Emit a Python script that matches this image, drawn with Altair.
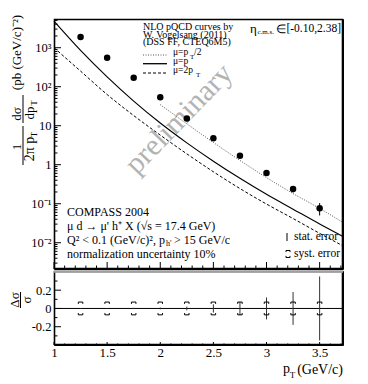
import altair as alt
import pandas as pd

SERIF = "Liberation Serif"

# ---------------- data ----------------
pt = [1.25, 1.5, 1.75, 2.0, 2.25, 2.5, 2.75, 3.0, 3.25, 3.5]
xsec = [1880, 555, 170, 54, 15.4, 4.8, 1.70, 0.61, 0.237, 0.077]
stat_rel = [0.004, 0.005, 0.007, 0.01, 0.02, 0.045, 0.07, 0.12, 0.18, 0.35]
syst_rel = [0.07, 0.07, 0.07, 0.07, 0.07, 0.07, 0.07, 0.07, 0.07, 0.07]

curve_pt = [1.0, 1.25, 1.5, 1.75, 2.0, 2.25, 2.5, 2.75, 3.0, 3.25, 3.5, 3.72]
mu_pt = [4786, 851, 178, 42.7, 11.7, 3.63, 1.23, 0.447, 0.174, 0.0724, 0.0302, 0.0145]
mu_2pt = [1000, 251, 63, 18.2, 5.75, 1.9, 0.66, 0.245, 0.098, 0.0417, 0.0174, 0.0083]
half_pt = [2.0, 2.25, 2.5, 2.75, 3.0, 3.25, 3.5, 3.72]
mu_half = [34.7, 11.2, 3.72, 1.29, 0.468, 0.182, 0.0759, 0.0331]

x_major = [1.0, 1.5, 2.0, 2.5, 3.0, 3.5]
x_minor = [1.1, 1.2, 1.3, 1.4, 1.6, 1.7, 1.8, 1.9, 2.1, 2.2, 2.3, 2.4, 2.6, 2.7,
           2.8, 2.9, 3.1, 3.2, 3.3, 3.4, 3.6, 3.7]
y_major = [0.01, 0.1, 1, 10, 100, 1000]
y_minor = [m * 10.0 ** k for k in range(-3, 4) for m in range(2, 10)
           if 0.00212 <= m * 10.0 ** k <= 5445]
r_major = [-0.2, 0.0, 0.2]
r_minor = [-0.3, -0.1, 0.1, 0.3]

W, H1, H2 = 289, 250, 74

xs = alt.Scale(domain=[1.0, 3.72], nice=False, zero=False)
ys = alt.Scale(type="log", domain=[0.00212, 5445], nice=False)
rs = alt.Scale(domain=[-0.40, 0.41], nice=False, zero=False)

pts = pd.DataFrame({"pt": pt, "xsec": xsec, "stat": stat_rel, "syst": syst_rel})
pts["lo"] = pts.xsec * (1 - pts.stat)
pts["hi"] = pts.xsec * (1 + pts.stat)
pts["slo"] = -pts.stat
pts["shi"] = pts.stat
pts["ylo"] = -pts.syst
pts["yhi"] = pts.syst

top_axis = alt.Axis(
    values=y_major,
    labelExpr="datum.value == 1 ? '1' : datum.value == 10 ? '10' : datum.value == 100 ? '10²' : datum.value == 1000 ? '10³' : datum.value < 0.05 ? '10⁻²' : '10⁻¹'",
    ticks=False, tickSize=0, domain=False, grid=False, labelFont=SERIF, labelFontSize=12.5,
    labelColor="black", labelPadding=3, labelFlush=False, minExtent=45, maxExtent=45, title=None)
bot_x_axis = alt.Axis(values=x_major, labelExpr="'' + datum.value", ticks=False, tickSize=0,
                      domain=False, grid=False, labelFont=SERIF, labelFontSize=13,
                      labelColor="black", labelPadding=1, labelFlush=False, title=None)
bot_y_axis = alt.Axis(values=r_major, labelExpr="'' + datum.value", ticks=False, tickSize=0,
                      domain=False, grid=False, labelFont=SERIF, labelFontSize=12.5,
                      labelColor="black", labelPadding=3, labelFlush=False,
                      minExtent=45, maxExtent=45, title=None)


def txt(s, x, y, size=12, align="left", angle=0, color="black", opacity=1.0):
    return alt.Chart(pd.DataFrame({"t": [s]})).mark_text(
        font=SERIF, fontSize=size, align=align, baseline="middle",
        angle=angle, color=color, opacity=opacity
    ).encode(x=alt.value(x), y=alt.value(y), text="t:N")


def hline(x1, x2, y, dash=None, color="black", width=1.0):
    kw = dict(color=color, strokeWidth=width)
    if dash:
        kw["strokeDash"] = dash
    return alt.Chart(pd.DataFrame({"a": [0]})).mark_rule(**kw).encode(
        x=alt.value(x1), x2=alt.value(x2), y=alt.value(y))


def vline(x, y1, y2, color="black", width=1.0):
    return alt.Chart(pd.DataFrame({"a": [0]})).mark_rule(color=color, strokeWidth=width).encode(
        x=alt.value(x), y=alt.value(y1), y2=alt.value(y2))


def frame(h):
    return alt.Chart(pd.DataFrame({"f": [1]})).mark_rect(
        filled=False, stroke="black", strokeWidth=1.6, opacity=1
    ).encode(x=alt.value(0.5), x2=alt.value(W - 0.5), y=alt.value(0.5), y2=alt.value(h - 0.5))


def curve(xv, yv, color, width, dash=None):
    kw = dict(color=color, strokeWidth=width, interpolate="monotone")
    if dash:
        kw["strokeDash"] = dash
    return alt.Chart(pd.DataFrame({"x": xv, "y": yv})).mark_line(**kw).encode(
        x=alt.X("x:Q", scale=xs, axis=None), y=alt.Y("y:Q", scale=ys, axis=top_axis))


def yticks(vals, scale, axis, length):
    return alt.Chart(pd.DataFrame({"v": vals})).mark_rule(color="black").encode(
        y=alt.Y("v:Q", scale=scale, axis=axis), x=alt.value(0), x2=alt.value(length))


def xticks(vals, axis, height, length):
    return alt.Chart(pd.DataFrame({"v": vals})).mark_rule(color="black").encode(
        x=alt.X("v:Q", scale=xs, axis=axis), y=alt.value(height), y2=alt.value(height - length))


points = alt.Chart(pts).mark_circle(size=42, color="black", opacity=1).encode(
    x=alt.X("pt:Q", scale=xs, axis=None),
    y=alt.Y("xsec:Q", scale=ys, axis=top_axis))
err_top = alt.Chart(pts).mark_rule(color="black").encode(
    x=alt.X("pt:Q", scale=xs, axis=None),
    y=alt.Y("lo:Q", scale=ys, axis=top_axis), y2="hi:Q")

top_layers = [
    txt("preliminary", 125, 100, size=30, align="center", angle=314, color="#9a9a9a", opacity=0.75),
    yticks(y_major, ys, top_axis, 7), yticks(y_minor, ys, top_axis, 3.5),
    xticks(x_major, None, H1, 7), xticks(x_minor, None, H1, 3.5),
    curve(half_pt, mu_half, "#555555", 1.0, [1, 1.5]),
    curve(curve_pt, mu_pt, "black", 1.15),
    curve(curve_pt, mu_2pt, "black", 1.0, [3, 2]),
    err_top, points,
    # header legend
    txt("NLO pQCD curves by", 89, 8, size=10),
    txt("W. Vogelsang (2011)", 89, 15.5, size=10),
    txt("(DSS FF, CTEQ6M5)", 89, 23, size=10),
    hline(89, 113, 36, dash=[1, 1.5], color="#555555"),
    hline(89, 113, 44.7, width=1.3),
    hline(89, 113, 54, dash=[3, 2]),
    txt("μ=p", 119, 32.5, size=9.5), txt("T", 136, 37.5, size=7), txt("/2", 140, 32.5, size=9.5),
    txt("μ=p", 119, 42, size=9.5),
    txt("μ=2p", 119, 50.5, size=9.5), txt("T", 142, 55.5, size=7),
    # eta range
    txt("η", 196, 9.5, size=13), txt("c.m.s.", 203.5, 13, size=7),
    txt("∈", 227, 9.5, size=12, align="center"),
    txt("[-0.10,2.38]", 287, 9.5, size=11.5, align="right"),
    # experiment text
    txt("COMPASS 2004", 13, 192.5, size=12),
    txt("μ d → μ' h⁺ X (√s = 17.4 GeV)", 13, 206.5, size=12),
    txt("Q² < 0.1 (GeV/c)², p", 13, 220.5, size=12),
    txt("h'", 112, 224.5, size=8), txt("> 15 GeV/c", 120, 220.5, size=12),
    txt("normalization uncertainty 10%", 13, 234.5, size=12),
    # error legend
    vline(233, 214, 222),
    txt("stat. error", 240, 217.5, size=11.5),
    txt("syst. error", 240, 235, size=11.5),
    # y title (rotated fraction)
    txt("(pb (GeV/c)⁻²)", -37.5, 33.5, size=13, align="center", angle=270),
    txt("dσ", -37.5, 95, size=13, align="center", angle=270),
    vline(-31, 76, 104),
    txt("dp", -24, 94, size=13, align="center", angle=270),
    txt("T", -20, 84, size=9, align="center", angle=270),
    txt("1", -37.5, 128, size=13, align="center", angle=270),
    vline(-31, 107, 146),
    txt("2π p", -24, 130, size=14, align="center", angle=270),
    txt("T", -20, 115.5, size=9, align="center", angle=270),
    frame(H1),
]

syst_leg = pd.DataFrame({"a": [0]})
top_layers.append(alt.Chart(syst_leg).mark_point(
    shape="M-1,0.8L-1,0L1,0L1,0.8", size=16, filled=False, color="black", strokeWidth=1, opacity=1
).encode(x=alt.value(234), y=alt.value(231.5)))
top_layers.append(alt.Chart(syst_leg).mark_point(
    shape="M-1,-0.8L-1,0L1,0L1,-0.8", size=16, filled=False, color="black", strokeWidth=1, opacity=1
).encode(x=alt.value(234), y=alt.value(238.5)))

top = alt.layer(*top_layers).properties(width=W, height=H1)

# ---------------- bottom panel ----------------
zero = alt.Chart(pd.DataFrame({"z": [0.0]})).mark_rule(color="black").encode(
    y=alt.Y("z:Q", scale=rs, axis=bot_y_axis), x=alt.value(0), x2=alt.value(W))
stat_bars = alt.Chart(pts).mark_rule(color="#333333", strokeWidth=1).encode(
    x=alt.X("pt:Q", scale=xs, axis=bot_x_axis),
    y=alt.Y("slo:Q", scale=rs, axis=bot_y_axis), y2="shi:Q")
syst_top = alt.Chart(pts).mark_point(
    shape="M-1,0.8L-1,0L1,0L1,0.8", size=20, filled=False, color="black", strokeWidth=1, opacity=1
).encode(x=alt.X("pt:Q", scale=xs, axis=bot_x_axis), y=alt.Y("yhi:Q", scale=rs, axis=bot_y_axis))
syst_bot = alt.Chart(pts).mark_point(
    shape="M-1,-0.8L-1,0L1,0L1,-0.8", size=20, filled=False, color="black", strokeWidth=1, opacity=1
).encode(x=alt.X("pt:Q", scale=xs, axis=bot_x_axis), y=alt.Y("ylo:Q", scale=rs, axis=bot_y_axis))

bottom = alt.layer(
    zero, stat_bars, syst_top, syst_bot,
    yticks(r_major, rs, bot_y_axis, 7), yticks(r_minor, rs, bot_y_axis, 3.5),
    xticks(x_major, bot_x_axis, H2, 3), xticks(x_minor, bot_x_axis, H2, 1.5),
    frame(H2),
    hline(0, W, 0.8, color="#a0a0a0", width=2),
    txt("Δσ", -39, 29, size=13, align="center", angle=270),
    vline(-33.5, 21, 37),
    txt("σ", -27.5, 29, size=13, align="center", angle=270),
    txt("(GeV/c)", 289, 99, size=14, align="right"),
    txt("T", 238.5, 104, size=9, align="center"),
    txt("p", 236, 97.5, size=14, align="right"),
).properties(width=W, height=H2)

chart = alt.vconcat(top, bottom, spacing=0).properties(
    padding={"left": 0, "top": 6, "right": 6, "bottom": 0},
    background="white",
).configure_view(stroke="black", strokeWidth=1)

chart.save("out.html", embed_options={"renderer": "svg", "actions": False})
